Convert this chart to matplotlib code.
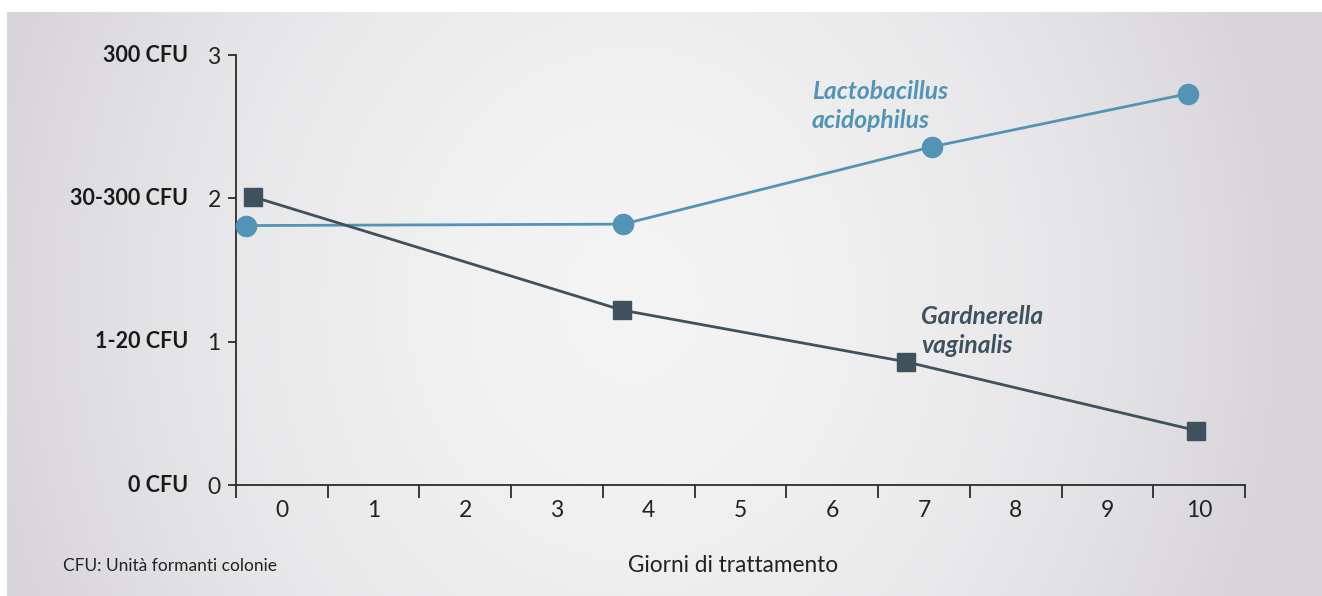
import numpy as np
import matplotlib
matplotlib.use("Agg")
import matplotlib.pyplot as plt

# giorni (posizione sull'asse) e livelli di colonizzazione
lacto_days = [-0.39, 3.72, 7.09, 9.88]
lacto_level = [1.81, 1.82, 2.36, 2.73]
gard_days = [-0.31, 3.71, 6.80, 9.97]
gard_level = [2.01, 1.22, 0.86, 0.38]

day_labels = [str(d) for d in range(11)]
level_ticks = [0, 1, 2, 3]
level_names = ["0 CFU", "1-20 CFU", "30-300 CFU", "300 CFU"]

BLUE = "#5393b6"
DARK = "#3f515d"
AXIS = "#2b2b2b"

W, H = 1322, 596

plt.rcParams['font.family'] = ['Lato', 'DejaVu Sans']

fig = plt.figure(figsize=(W / 100, H / 100), dpi=100)

# sfondo grigio con sfumatura chiara al centro
bg = fig.add_axes([7 / W, 0, 1 - 7 / W, 1 - 12 / H])
xx = np.linspace(-1, 1, 400)
yy = np.linspace(-1, 1, 200)
X, Y = np.meshgrid(xx, yy)
d = np.clip(np.sqrt((X + 0.05) ** 2 + 0.15 * Y ** 2), 0, 1)
t = d ** 1.8
c0 = np.array([0.955, 0.955, 0.955])
c1 = np.array([0.845, 0.835, 0.855])
img = c0[None, None, :] * (1 - t[..., None]) + c1[None, None, :] * t[..., None]
bg.imshow(img, aspect="auto", extent=[0, 1, 0, 1], interpolation="bilinear")
bg.set_axis_off()

ax = fig.add_axes([236 / W, 1 - 485 / H, (1245 - 236) / W, (485 - 55) / H])
ax.patch.set_alpha(0)

ax.plot(lacto_days, lacto_level, color=BLUE, lw=2.0, marker="o", ms=14.5,
        clip_on=False, zorder=3)
ax.plot(gard_days, gard_level, color=DARK, lw=2.0, marker="s", ms=12.5,
        clip_on=False, zorder=3)

ax.set_xlim(-0.5, 10.5)
ax.set_ylim(0, 3)

for s in ["top", "right"]:
    ax.spines[s].set_visible(False)
for s in ["left", "bottom"]:
    ax.spines[s].set_color(AXIS)
    ax.spines[s].set_linewidth(1.3)

# tacche tra le categorie, etichette al centro
ax.set_xticks(np.arange(-0.5, 11, 1))
ax.set_xticklabels([])
ax.tick_params(axis="x", which="major", length=9, width=1.3, color=AXIS, direction="out")
ax.set_xticks(np.arange(11), minor=True)
ax.set_xticklabels(day_labels, minor=True)
ax.tick_params(axis="x", which="minor", length=0, pad=11, labelsize=16.5, labelcolor="#222222")

ax.set_yticks(level_ticks)
ax.set_yticklabels([str(v) for v in level_ticks])
ax.tick_params(axis="y", length=6, width=1.3, color=AXIS, pad=5, labelsize=16.5,
               labelcolor="#222222")

for v, name in zip(level_ticks, level_names):
    ax.annotate(name, xy=(0, v), xycoords=("axes fraction", "data"),
                xytext=(-48, 0), textcoords="offset pixels",
                ha="right", va="center", fontsize=15.5, fontweight="bold", color="#1a1a1a")

ax.text(812, H - 80, "Lactobacillus\nacidophilus", transform=None, fontsize=17.7,
        fontweight="bold", style="italic", color=BLUE, ha="left", va="top",
        linespacing=1.3)
ax.text(921, H - 305, "Gardnerella\nvaginalis", transform=None, fontsize=17.7,
        fontweight="bold", style="italic", color=DARK, ha="left", va="top",
        linespacing=1.3)

fig.text(733 / W, 1 - 566 / H, "Giorni di trattamento", ha="center", va="center",
         fontsize=16.3, color="#222222")
fig.text(63 / W, 1 - 566 / H, "CFU: Unità formanti colonie", ha="left", va="center",
         fontsize=12.5, color="#222222")

fig.savefig("out.png", dpi=100)
